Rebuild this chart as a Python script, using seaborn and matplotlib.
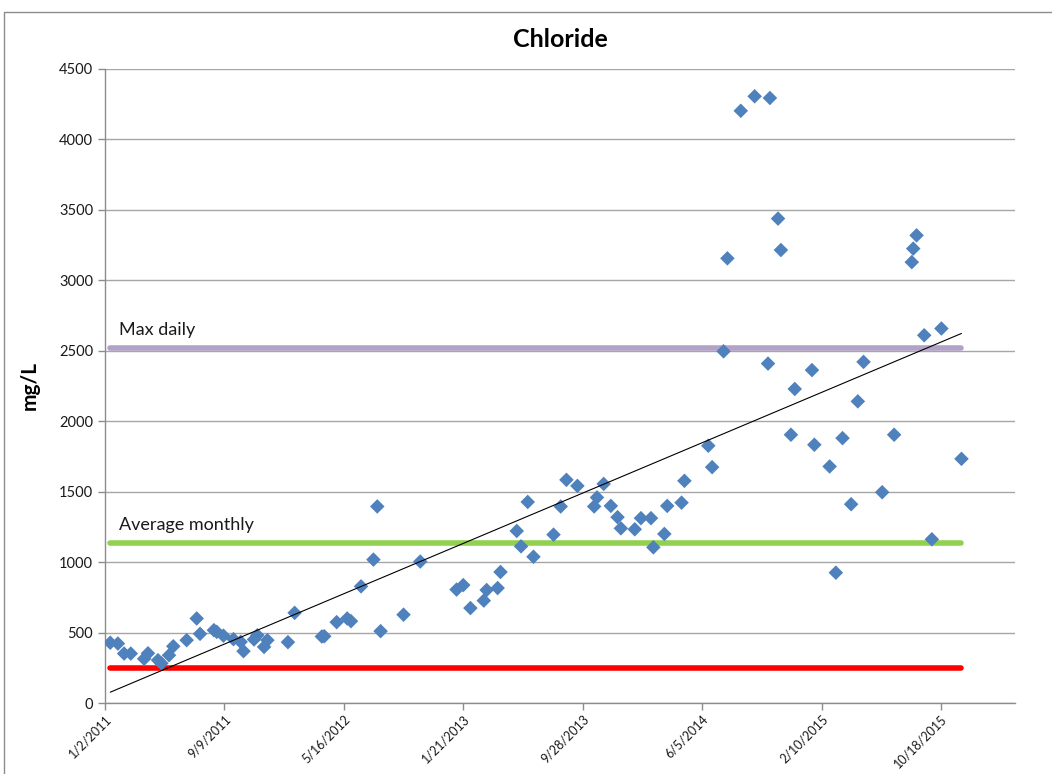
import datetime as dt

import matplotlib
matplotlib.use("Agg")
import matplotlib.dates as mdates
import matplotlib.pyplot as plt
from matplotlib.patches import Rectangle
from matplotlib.ticker import FixedLocator, FuncFormatter, MultipleLocator
import numpy as np
import pandas as pd
import seaborn as sns

# Chloride samples (mg/L)
sample_dates = [
    "2011-01-13", "2011-01-29", "2011-02-11", "2011-02-25", "2011-03-25",
    "2011-04-02", "2011-04-23", "2011-04-30", "2011-05-16", "2011-05-25",
    "2011-06-22", "2011-07-13", "2011-07-20", "2011-08-18", "2011-08-24",
    "2011-09-07", "2011-09-28", "2011-10-13", "2011-10-19", "2011-11-10",
    "2011-11-17", "2011-12-01", "2011-12-08", "2012-01-20", "2012-02-03",
    "2012-03-31", "2012-04-05", "2012-05-01", "2012-05-23", "2012-05-31",
    "2012-06-21", "2012-07-17", "2012-07-25", "2012-08-01", "2012-09-18",
    "2012-10-23", "2013-01-07", "2013-01-21", "2013-02-05", "2013-03-05",
    "2013-03-11", "2013-04-03", "2013-04-09", "2013-05-13", "2013-05-22",
    "2013-06-05", "2013-06-17", "2013-07-29", "2013-08-13", "2013-08-25",
    "2013-09-17", "2013-10-22", "2013-10-28", "2013-11-11", "2013-11-26",
    "2013-12-10", "2013-12-17", "2014-01-15", "2014-01-28", "2014-02-18",
    "2014-02-23", "2014-03-18", "2014-03-24", "2014-04-23", "2014-04-29",
    "2014-06-18", "2014-06-26", "2014-07-20", "2014-07-28", "2014-08-25",
    "2014-09-23", "2014-10-25", "2014-10-21", "2014-11-11", "2014-11-17",
    "2014-12-08", "2014-12-16", "2015-01-21", "2015-01-26", "2015-02-27",
    "2015-03-12", "2015-03-26", "2015-04-13", "2015-04-27", "2015-05-09",
    "2015-06-17", "2015-07-12", "2015-08-18", "2015-08-21", "2015-08-28",
    "2015-09-13", "2015-09-29", "2015-10-19", "2015-11-30",
]
chloride = [
    428, 422, 351, 351, 314, 353, 304, 282, 339, 403,
    446, 600, 491, 517, 505, 478, 453, 434, 368, 451,
    481, 398, 446, 432, 640, 472, 474, 574, 600, 581,
    828, 1018, 1395, 510, 627, 1004, 805, 837, 674, 727,
    802, 816, 930, 1221, 1112, 1427, 1038, 1195, 1395, 1584,
    1541, 1395, 1459, 1555, 1399, 1319, 1240, 1233, 1312, 1312,
    1105, 1200, 1399, 1422, 1577, 1826, 1674, 2496, 3156, 4203,
    4306, 4294, 2409, 3438, 3215, 1904, 2229, 2363, 1833, 1679,
    925, 1880, 1411, 2141, 2421, 1496, 1904, 3129, 3225, 3319,
    2610, 1162, 2658, 1733,
]

# Reference limits (mg/L)
limit_names = ["Water quality", "Average monthly", "Max daily"]
limit_values = [250, 1135, 2520]
limit_colors = ["#FF0000", "#92D050", "#B3A2C7"]

axis_start = "2011-01-02"
tick_step_days = 250
n_ticks = 8
axis_span_days = 1905

# ---------------------------------------------------------------------------
df = pd.DataFrame({
    "date": pd.to_datetime(sample_dates),
    "chloride": chloride,
})
df["x"] = mdates.date2num(df["date"])

sns.set_theme(style="white")
plt.rcParams["font.family"] = ["Lato", "DejaVu Sans"]

fig = plt.figure(figsize=(10.52, 7.74), dpi=100)
ax = fig.add_axes([0.0998, 0.0917, 0.8650, 0.8192])

# Chart border
fig.patches.append(Rectangle((0.004, -0.01), 1.2, 0.999 - 0.004,
                             transform=fig.transFigure, fill=False,
                             edgecolor="#8C8C8C", linewidth=1.0))

x_first, x_last = df["x"].min(), df["x"].max()

# Limit lines across the sampling period
for name, val, col in zip(limit_names, limit_values, limit_colors):
    lim_df = pd.DataFrame({"x": [x_first, x_last], "y": [val, val]})
    sns.lineplot(data=lim_df, x="x", y="y", ax=ax, color=col, linewidth=4,
                 solid_capstyle="round", zorder=3)

# Linear trend
slope, intercept = np.polyfit(df["x"], df["chloride"], 1)
trend_df = pd.DataFrame({"x": [x_first, x_last]})
trend_df["y"] = slope * trend_df["x"] + intercept
sns.lineplot(data=trend_df, x="x", y="y", ax=ax, color="black",
             linewidth=0.8, zorder=5)

# Samples
sns.scatterplot(data=df, x="x", y="chloride", ax=ax, marker="D", s=55,
                color="#4F81BD", edgecolor="none", zorder=4)

# Labels for the limit lines
x_text = mdates.date2num(pd.Timestamp(axis_start)) + 29
ax.text(x_text, 2650, "Max daily", fontsize=13, color="#1A1A1A",
        va="center", ha="left")
ax.text(x_text, 1265, "Average monthly", fontsize=13, color="#1A1A1A",
        va="center", ha="left")

# Axes
x0 = mdates.date2num(pd.Timestamp(axis_start))
ax.set_xlim(x0, x0 + axis_span_days)
ax.set_ylim(0, 4500)
ax.xaxis.set_major_locator(FixedLocator([x0 + i * tick_step_days
                                         for i in range(n_ticks)]))


def fmt_date(v, pos=None):
    d = mdates.num2date(v)
    return f"{d.month}/{d.day}/{d.year}"


ax.xaxis.set_major_formatter(FuncFormatter(fmt_date))
ax.yaxis.set_major_locator(MultipleLocator(500))

ax.grid(axis="y", color="#A6A6A6", linewidth=1.0)
ax.set_axisbelow(True)
for side in ["top", "right"]:
    ax.spines[side].set_visible(False)
for side in ["left", "bottom"]:
    ax.spines[side].set_color("#8C8C8C")
    ax.spines[side].set_linewidth(1.0)

ax.tick_params(axis="both", which="major", length=5, width=1,
               color="#8C8C8C", labelcolor="#1A1A1A",
               direction="out", left=True, bottom=True)
ax.tick_params(axis="y", labelsize=10.5)
ax.tick_params(axis="x", labelsize=9, pad=2)
for lbl in ax.get_xticklabels():
    lbl.set_rotation(45)
    lbl.set_ha("right")
    lbl.set_rotation_mode("anchor")

ax.set_xlabel("")
ax.set_ylabel("mg/L", fontsize=15, fontweight="bold", color="black",
              labelpad=14)
ax.set_title("Chloride", fontsize=18, fontweight="bold", color="black",
             pad=16)

fig.savefig("out.png", dpi=100, facecolor="white")
